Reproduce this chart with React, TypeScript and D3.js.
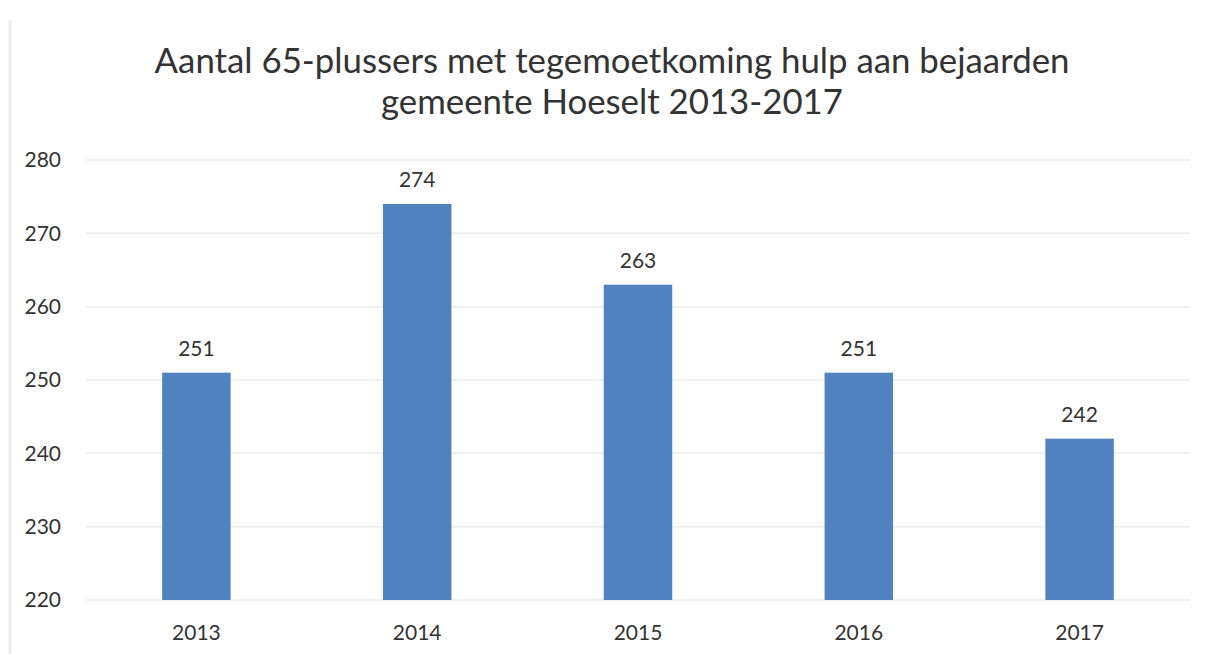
import React from "react";
import * as d3 from "d3";

const years = ["2013", "2014", "2015", "2016", "2017"];
const values = [251, 274, 263, 251, 242];
const yTicks = [220, 230, 240, 250, 260, 270, 280];
const titleLines = [
  "Aantal 65-plussers met tegemoetkoming hulp aan bejaarden",
  "gemeente Hoeselt 2013-2017",
];

const W = 1215;
const H = 654;
const FONT = "Lato, 'Open Sans', sans-serif";

export default function App() {
  const x = d3.scaleBand<string>().domain(years).range([86, 1190]).paddingInner(0.69).paddingOuter(0.345);
  const y = d3.scaleLinear().domain([220, 280]).range([600, 160]);
  return (
    <svg width={W} height={H} style={{ position: "absolute", left: 0, top: 0, background: "#fff" }}>
      <rect x={0} y={0} width={W} height={H} fill="#fff" />
      <line x1={10} x2={10} y1={20} y2={H} stroke="#ececec" strokeWidth={3} />
      {titleLines.map((t, i) => (
        <text key={t} x={612} y={73 + i * 41} textAnchor="middle" fontFamily={FONT} fontSize={34.8} fill="#333">
          {t}
        </text>
      ))}
      {yTicks.map((t) => (
        <g key={t}>
          <line x1={86} x2={1190} y1={y(t)} y2={y(t)} stroke="#ebebeb" strokeWidth={1.5} />
          <text x={61} y={y(t)} dy="0.35em" textAnchor="end" fontFamily={FONT} fontSize={21} fill="#333">
            {t}
          </text>
        </g>
      ))}
      {years.map((yr, i) => (
        <g key={yr}>
          <rect x={x(yr)} y={y(values[i])} width={x.bandwidth()} height={y(220) - y(values[i])} fill="#5182c0" />
          <text x={x(yr)! + x.bandwidth() / 2} y={y(values[i]) - 17} textAnchor="middle" fontFamily={FONT} fontSize={21} fill="#333">
            {values[i]}
          </text>
          <text x={x(yr)! + x.bandwidth() / 2} y={640} textAnchor="middle" fontFamily={FONT} fontSize={21} fill="#333">
            {yr}
          </text>
        </g>
      ))}
    </svg>
  );
}
